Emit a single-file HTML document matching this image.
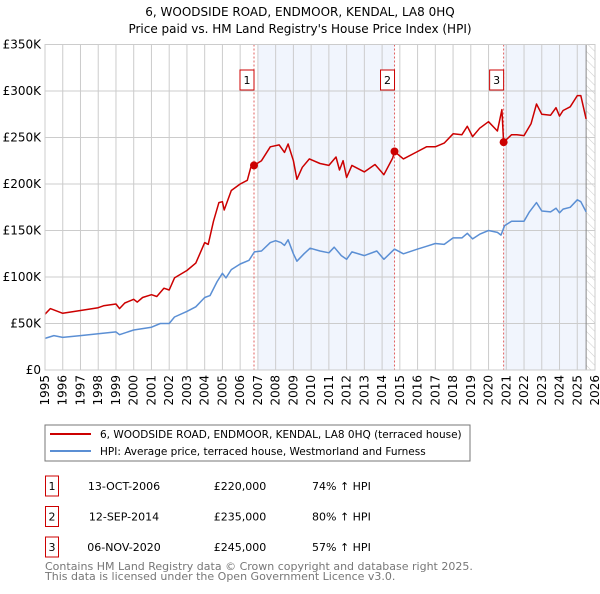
<!DOCTYPE html>
<html><head><meta charset="utf-8"><style>
body{margin:0;background:#fff;font-family:"DejaVu Sans","Liberation Sans",sans-serif;}
svg text{font-family:"DejaVu Sans","Liberation Sans",sans-serif;}
</style></head><body>
<svg id="c" width="600" height="590" xmlns="http://www.w3.org/2000/svg">
<defs><pattern id="hatch" width="6" height="6" patternUnits="userSpaceOnUse" patternTransform="rotate(-45)"><line x1="0" y1="0" x2="0" y2="6" stroke="#ccc" stroke-width="1"/></pattern></defs>
<text x="300" y="16" text-anchor="middle" font-size="12" fill="#000">6, WOODSIDE ROAD, ENDMOOR, KENDAL, LA8 0HQ</text>
<text x="300" y="33" text-anchor="middle" font-size="12" fill="#000">Price paid vs. HM Land Registry's House Price Index (HPI)</text>
<g id="plot"></g>
<rect x="45" y="425" width="425" height="36" fill="#fff" stroke="#777"/>
<line x1="50" y1="434" x2="91" y2="434" stroke="#cc0000" stroke-width="2"/>
<text x="100" y="438" font-size="10.5">6, WOODSIDE ROAD, ENDMOOR, KENDAL, LA8 0HQ (terraced house)</text>
<line x1="50" y1="451" x2="91" y2="451" stroke="#5b8fd4" stroke-width="2"/>
<text x="100" y="455" font-size="10.5">HPI: Average price, terraced house, Westmorland and Furness</text>
<g id="tbl"></g>
<text x="45" y="570" font-size="11" fill="#777">Contains HM Land Registry data © Crown copyright and database right 2025.</text>
<text x="45" y="580" font-size="11" fill="#777">This data is licensed under the Open Government Licence v3.0.</text>
</svg>
<script>
const hpiYears=[1995,1995.5,1996,1997,1998,1999,1999.2,2000,2001,2001.5,2002,2002.3,2003,2003.5,2004,2004.3,2004.7,2005,2005.2,2005.5,2006,2006.5,2006.8,2007.2,2007.7,2008,2008.3,2008.5,2008.7,2009,2009.2,2009.6,2009.94,2010.5,2011,2011.3,2011.7,2012,2012.3,2013,2013.7,2014.1,2014.7,2015.2,2016,2016.5,2017,2017.5,2018,2018.5,2018.8,2019.1,2019.5,2020,2020.5,2020.7,2020.9,2021.3,2022,2022.3,2022.7,2023,2023.5,2023.8,2024,2024.2,2024.6,2025,2025.2,2025.5];
const hpiValues=[34,37,35,37,39,41,38,43,46,50,50,57,63,68,78,80,95,104,99,108,114,118,127,128,137,139,137,134,140,125,117,125,131,128,126,132,123,119,127,123,128,119,130,125,130,133,136,135,142,142,147,141,146,150,148,145,155,160,160,170,180,171,170,174,169,173,175,183,181,170];
const propYears=[1995,1995.3,1996,1997,1998,1998.3,1999,1999.2,1999.5,2000,2000.2,2000.5,2001,2001.3,2001.7,2002,2002.3,2003,2003.5,2004,2004.2,2004.5,2004.8,2005,2005.1,2005.5,2006,2006.4,2006.6,2006.78,2007.2,2007.7,2008.2,2008.5,2008.7,2009,2009.2,2009.5,2009.9,2010.5,2011,2011.4,2011.6,2011.8,2012,2012.3,2013,2013.6,2014.1,2014.6,2014.7,2015.2,2016,2016.5,2017,2017.5,2018,2018.5,2018.8,2019.1,2019.5,2020,2020.5,2020.75,2020.85,2021.3,2021.6,2022,2022.4,2022.7,2023,2023.5,2023.8,2024,2024.2,2024.6,2025,2025.2,2025.5];
const propValues=[60,66,61,64,67,69,71,66,72,76,73,78,81,79,88,86,99,107,115,137,135,160,180,181,172,193,200,204,218,220,225,240,242,234,243,225,205,218,227,222,220,229,215,225,207,220,213,221,210,228,235,227,235,240,240,244,254,253,262,251,260,267,257,280,245,253,253,252,265,286,275,274,282,273,279,283,295,295,270];
const saleYears=[2006.78,2014.7,2020.85];
const saleValues=[220,235,245];
const saleLabels=["1","2","3"];
const saleDates=["13-OCT-2006","12-SEP-2014","06-NOV-2020"];
const salePrices=["£220,000","£235,000","£245,000"];
const saleDiffs=["74% ↑ HPI","80% ↑ HPI","57% ↑ HPI"];
const yTicks=[0,50,100,150,200,250,300,350];
const yTickLabels=["£0","£50K","£100K","£150K","£200K","£250K","£300K","£350K"];

const NS="http://www.w3.org/2000/svg";
const X0=45,X1=595,Y0=370,Y1=44.5,T0=1995,T1=2026,VMAX=350;
const xs=t=>X0+(t-T0)/(T1-T0)*(X1-X0);
const ys=v=>Y0-v/VMAX*(Y0-Y1);
const plot=document.getElementById('plot');
function mk(tag,attrs,parent){const e=document.createElementNS(NS,tag);for(const k in attrs)e.setAttribute(k,attrs[k]);(parent||plot).appendChild(e);return e;}
let e;
e=mk('rect',{x:xs(2007),y:Y1,width:xs(saleYears[1])-xs(2007),height:Y0-Y1,fill:'#eef3fc',opacity:0.8});


e=mk('rect',{x:xs(saleYears[2]),y:Y1,width:xs(2025.5)-xs(saleYears[2]),height:Y0-Y1,fill:'#eef3fc',opacity:0.8});


e=mk('rect',{x:xs(2025.5),y:Y1,width:X1-xs(2025.5),height:Y0-Y1,fill:'url(#hatch)'});


for(let y=T0;y<=T1;y++){
 e=mk('line',{x1:xs(y),x2:xs(y),y1:Y1,y2:Y0,stroke:'#ccc','stroke-width':1});
 
 
 e=mk('text',{transform:`translate(${xs(y)+4},${Y0+5}) rotate(-90)`,'text-anchor':'end','font-size':12});
 e.textContent=y;
 
 
}
yTicks.forEach((v,i)=>{
 e=mk('line',{x1:X0,x2:X1,y1:ys(v),y2:ys(v),stroke:'#ccc','stroke-width':1});
 
 
 e=mk('text',{x:X0-4,y:ys(v)+4,'text-anchor':'end','font-size':12});
 e.textContent=yTickLabels[i];
 
 
});
e=mk('line',{x1:xs(2025.5),x2:xs(2025.5),y1:Y1,y2:Y0,stroke:'#888','stroke-width':1});


saleYears.forEach((t,i)=>{
 e=mk('line',{x1:xs(t),x2:xs(t),y1:Y1,y2:Y0,stroke:'#e06060','stroke-width':1,'stroke-dasharray':'2,2'});
 
 
 e=mk('rect',{x:xs(t)-14,y:70,width:14,height:20,fill:'#fff',stroke:'#cc0000'});
 
 
 e=mk('text',{x:xs(t)-7,y:84,'text-anchor':'middle','font-size':11});
 e.textContent=saleLabels[i];
 
 
});
function line(xa,va,col,name){
 const d=xa.map((t,i)=>(i?'L':'M')+xs(t).toFixed(1)+','+ys(va[i]).toFixed(1)).join('');
 const p=mk('path',{d:d,fill:'none',stroke:col,'stroke-width':1.5,'stroke-linejoin':'round'});
 
 
}
line(hpiYears,hpiValues,'#5b8fd4','hpi-line');
line(propYears,propValues,'#cc0000','property-price-line');
saleYears.forEach((t,i)=>{
 const c=mk('circle',{cx:xs(t),cy:ys(saleValues[i]),r:4,fill:'#cc0000'});
 
 
});
e=mk('rect',{x:X0,y:Y1,width:X1-X0,height:Y0-Y1,fill:'none',stroke:'#ccc'});


const tbl=document.getElementById('tbl');
saleDates.forEach((d,i)=>{
 const y=484+i*30.5;
 e=mk('rect',{x:45.5,y:y-8,width:13,height:20,fill:'#fff',stroke:'#cc0000'},tbl);
 
 
 e=mk('text',{x:52,y:y+6,'text-anchor':'middle','font-size':11},tbl);e.textContent=saleLabels[i];
 
 
 e=mk('text',{x:124,y:y+6,'text-anchor':'middle','font-size':11},tbl);e.textContent=d;
 
 
 e=mk('text',{x:240,y:y+6,'text-anchor':'middle','font-size':11},tbl);e.textContent=salePrices[i];
 
 
 e=mk('text',{x:312,y:y+6,'font-size':11},tbl);e.textContent=saleDiffs[i];
 
 
});
</script>
</body></html>
